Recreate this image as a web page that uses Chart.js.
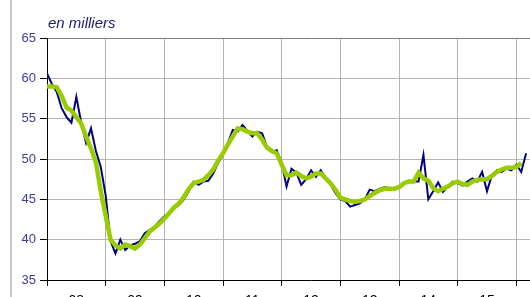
<!DOCTYPE html>
<html>
<head>
<meta charset="utf-8">
<script src="https://cdn.jsdelivr.net/npm/chart.js@4/dist/chart.umd.min.js"></script>
<style>
html,body{margin:0;padding:0;overflow:hidden;background:#fff;width:530px;height:297px;}
#c{position:absolute;left:0;top:0;}
</style>
</head>
<body>
<canvas id="c" width="620" height="330"></canvas>
<script>
// Year tick labels (one per year interval, centred)
const yearLabels = ['08','09','10','11','12','13','14','15'];
// Monthly observations, Jan 2008 onward (en milliers)
const observed = [
  60.6,59.3,58.3,56.3,55.2,54.5,57.7,54.5,52.0,53.8,51.0,49.0,
  45.5,39.8,38.3,40.0,38.7,39.3,39.5,39.8,40.8,41.2,41.6,42.3,
  42.9,43.3,43.9,44.3,45.0,46.0,47.2,46.8,47.2,47.3,48.2,49.5,
  50.5,52.0,53.6,53.4,54.2,53.5,52.8,53.4,53.2,51.5,50.9,51.1,
  49.5,46.6,48.8,48.3,46.8,47.5,48.6,47.8,48.6,47.6,46.8,45.8,
  45.0,44.8,44.1,44.3,44.5,45.0,46.2,46.0,46.3,46.5,46.4,46.2,
  46.5,47.0,47.3,47.2,47.2,50.5,45.0,46.0,47.1,45.9,46.6,47.2,
  47.0,46.7,47.2,47.6,47.2,48.4,46.0,48.0,48.6,48.4,48.8,48.6,
  49.3,48.4,50.7
];
// Trend series
const trend = [
  59.0,59.0,58.9,57.8,56.4,56.0,55.2,54.4,52.8,51.3,49.6,46.0,
  43.0,40.0,39.3,38.9,39.4,39.2,38.9,39.4,40.2,41.0,41.5,42.0,
  42.6,43.3,44.0,44.5,45.3,46.3,47.0,47.2,47.4,48.0,48.7,49.8,
  50.7,51.8,52.8,53.8,53.7,53.4,53.2,53.2,52.4,51.4,51.0,50.7,
  49.3,48.0,48.0,48.3,47.9,47.6,47.8,48.2,48.2,47.6,47.0,46.2,
  45.2,45.0,44.8,44.7,44.8,45.0,45.4,45.8,46.1,46.3,46.3,46.3,
  46.5,47.0,47.2,47.2,48.3,47.6,47.3,46.4,46.0,46.3,46.6,47.0,
  47.2,46.9,46.8,47.2,47.4,47.5,47.5,47.9,48.4,48.7,48.9,48.9,
  49.0,49.5
];

const decor = {
  id: 'decor',
  afterDraw(chart) {
    const ctx = chart.ctx;
    ctx.save();
    ctx.strokeStyle = '#c8c8c8';
    ctx.lineWidth = 2;
    ctx.beginPath();
    ctx.moveTo(11, 0);
    ctx.lineTo(11, 330);
    ctx.stroke();
    ctx.fillStyle = '#1a1a80';
    ctx.font = 'italic 15px "Liberation Sans", Arial, sans-serif';
    ctx.textBaseline = 'alphabetic';
    ctx.textAlign = 'left';
    ctx.fillText('en milliers', 48, 28);
    ctx.restore();
  }
};

new Chart(document.getElementById('c'), {
  type: 'line',
  data: {
    datasets: [
      {
        label: 'Tendance',
        data: trend.map((v, i) => ({x: i, y: v})),
        borderColor: '#99cc00',
        borderWidth: 4.5,
        pointRadius: 0,
        tension: 0,
        order: 0
      },
      {
        label: 'Données brutes',
        data: observed.map((v, i) => ({x: i, y: v})),
        borderColor: '#000080',
        borderWidth: 2,
        pointRadius: 0,
        tension: 0,
        order: 1
      }
    ]
  },
  options: {
    responsive: false,
    animation: false,
    devicePixelRatio: 1,
    layout: {padding: {left: 0, top: 38, right: 45, bottom: 10}},
    plugins: {legend: {display: false}, tooltip: {enabled: false}, title: {display: false}},
    scales: {
      x: {
        type: 'linear',
        min: 0,
        max: 108,
        afterFit(s) { s.height = 40; },
        border: {color: '#000', width: 1},
        grid: {
          color: (c) => (c.tick && c.tick.value % 12 === 0) ? '#b4b4b4' : 'rgba(0,0,0,0)',
          tickColor: (c) => (c.tick && c.tick.value % 12 === 0) ? '#000' : 'rgba(0,0,0,0)',
          tickLength: 6,
          lineWidth: 1
        },
        ticks: {
          stepSize: 6,
          autoSkip: false,
          maxRotation: 0,
          padding: 7,
          color: '#000',
          font: {family: '"Liberation Sans", Arial, sans-serif', size: 14},
          callback: (v) => (v % 12 === 6 && yearLabels[(v - 6) / 12] !== undefined) ? yearLabels[(v - 6) / 12] : ''
        }
      },
      y: {
        min: 35,
        max: 65,
        afterFit(s) { s.width = 47; },
        border: {color: '#000', width: 1},
        grid: {
          color: (c) => (c.tick && c.tick.value === 65) ? '#808080' : '#b4b4b4',
          tickColor: '#000',
          tickLength: 7,
          lineWidth: 1
        },
        ticks: {
          stepSize: 5,
          padding: 4,
          color: '#3d3d99',
          font: {family: '"Liberation Sans", Arial, sans-serif', size: 13}
        }
      }
    }
  },
  plugins: [decor]
});
</script>
</body>
</html>
